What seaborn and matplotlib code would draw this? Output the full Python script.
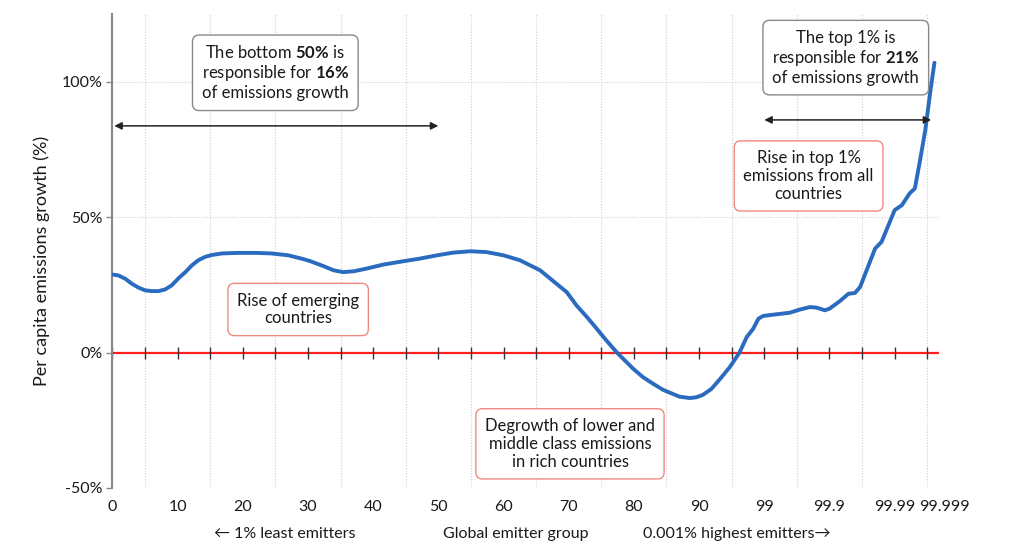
import numpy as np
import pandas as pd
import matplotlib.pyplot as plt
import matplotlib.transforms as mtransforms
import seaborn as sns

# position on the chart axis (0-90 = percentiles, 100/110/120 = 99, 99.9, 99.99)
rank_pos = [0, 0.9, 1.95, 3.0, 4.0, 5.0, 6.0, 7.1, 8.1, 9.1, 10.1, 11.2, 12.2, 13.2,
            14.2, 15.2, 16.8, 19.3, 21.9, 24.4, 27.0, 29.0, 30.3, 32.4, 33.9, 35.4,
            37.0, 39.0, 41.6, 44.6, 47.2, 49.8, 52.3, 54.9, 57.4, 60.0, 62.5, 65.6,
            69.7, 71.2, 72.8, 74.3, 75.8, 77.4, 79.9, 81.4, 83.0, 84.5, 86.0, 87.0,
            88.6, 89.6, 90.6, 91.9, 93.2, 94.7, 96.2, 97.3, 98.3, 99.1, 99.8, 101.4,
            103.9, 105.5, 107.0, 108.0, 109.3, 110.0, 111.6, 112.9, 113.9, 114.7, 115.7,
            117.0, 118.0, 120.0, 121.1, 122.3, 123.1, 123.9, 124.7, 125.5, 126.1]
growth = [28.8, 28.5, 27.3, 25.4, 24.0, 23.0, 22.7, 22.7, 23.3, 24.8, 27.3, 29.7, 32.2, 34.1,
          35.3, 36.0, 36.6, 36.8, 36.8, 36.6, 35.9, 34.7, 33.8, 31.9, 30.4, 29.7,
          30.0, 31.0, 32.5, 33.7, 34.7, 35.9, 36.9, 37.4, 37.1, 35.9, 34.1, 30.4,
          22.3, 17.4, 13.1, 8.8, 4.4, 0.0, -6.0, -9.1, -11.6, -13.8, -15.3, -16.3,
          -16.8, -16.5, -15.6, -13.4, -9.8, -5.4, 0.0, 5.7, 8.8, 12.5, 13.5, 14.0,
          14.7, 15.9, 16.8, 16.6, 15.6, 16.2, 19.0, 21.7, 22.0, 24.2, 30.4,
          38.4, 40.9, 52.6, 54.4, 58.8, 60.6, 71.1, 82.2, 97.0, 107.0]

tick_pos = [0, 10, 20, 30, 40, 50, 60, 70, 80, 90, 100, 110, 120, 126.8]
tick_labels = ['0', '10', '20', '30', '40', '50', '60', '70', '80', '90',
               '99', '99.9', '99.99', '99.999']
y_ticks = [-50, 0, 50, 100]

df = pd.DataFrame({'pos': rank_pos, 'growth': growth})

sns.set_theme(style='white')
plt.rcParams['font.family'] = ['Lato', 'DejaVu Sans']
plt.rcParams['mathtext.fontset'] = 'custom'
plt.rcParams['mathtext.rm'] = 'Lato'
plt.rcParams['mathtext.bf'] = 'Lato:bold'

fig = plt.figure(figsize=(10.24, 5.52), dpi=100)
ax = fig.add_axes([0.1097, 0.116, 0.8073, 0.8586])

text_col = '#1a1a1a'
grid_col = '#cfcfcf'

# grid
ax.set_xticks(np.arange(5, 126, 5), minor=True)
ax.grid(which='minor', axis='x', color=grid_col, ls=(0, (1, 1.5)), lw=0.8)
ax.grid(which='major', axis='y', color=grid_col, ls=(0, (1, 1.5)), lw=0.8)
ax.grid(which='major', axis='x', visible=False)

ax.axhline(0, color='#ff2020', lw=1.6, zorder=2)
marks = np.arange(0, 126, 5)
ax.plot(marks, np.zeros(len(marks)), ls='none', marker='|', ms=8, mew=1.0,
        color='#333333', zorder=2.5)

sns.lineplot(data=df, x='pos', y='growth', ax=ax, color='#2a6bbf', lw=2.8, zorder=3)

ax.set_xlim(0, 126.8)
ax.set_ylim(-50, 125)
ax.set_xticks(tick_pos)
ax.set_xticklabels(tick_labels)
ax.set_yticks(y_ticks)
ax.set_yticklabels([f'{v}%' for v in y_ticks])
ax.tick_params(axis='x', length=0, labelsize=11.5, colors=text_col, pad=9)
ax.tick_params(axis='y', length=4, width=1, color='#888888', labelsize=11.5,
               labelcolor=text_col, pad=3, left=True)
ax.tick_params(which='minor', length=0)
last = ax.get_xticklabels()[-1]
last.set_transform(last.get_transform() + mtransforms.ScaledTranslation(4 / 72, 0, fig.dpi_scale_trans))
for s in ['top', 'right', 'bottom']:
    ax.spines[s].set_visible(False)
ax.spines['left'].set_color('#888888')
ax.spines['left'].set_linewidth(1.5)
ax.set_xlabel('')
ax.set_ylabel('Per capita emissions growth (%)', fontsize=13, color=text_col)
ax.yaxis.set_label_coords(-0.075, 0.48)

gray_box = dict(boxstyle='round,pad=0.55,rounding_size=0.4', fc='white', ec='#888888', lw=1)
red_box = dict(boxstyle='round,pad=0.55,rounding_size=0.4', fc='white', ec='#f08a80', lw=1)

ax.text(25, 103.3, 'The bottom $\\mathbf{50\\%}$ is\nresponsible for $\\mathbf{16\\%}$\nof emissions growth',
        ha='center', va='center', fontsize=12, color=text_col, bbox=gray_box, linespacing=1.15)
ax.text(112.5, 108.9, 'The top 1% is\nresponsible for $\\mathbf{21\\%}$\nof emissions growth',
        ha='center', va='center', fontsize=12, color=text_col, bbox=gray_box, linespacing=1.15)
ax.text(106.8, 65.2, 'Rise in top 1%\nemissions from all\ncountries',
        ha='center', va='center', fontsize=12, color=text_col, bbox=red_box, linespacing=1.15)
ax.text(28.5, 15.9, 'Rise of emerging\ncountries',
        ha='center', va='center', fontsize=12, color=text_col, bbox=red_box, linespacing=1.15)
ax.text(70.2, -33.7, 'Degrowth of lower and\nmiddle class emissions\nin rich countries',
        ha='center', va='center', fontsize=12, color=text_col, bbox=red_box, linespacing=1.15)

arrow = dict(arrowstyle='<|-|>', color='#222222', lw=1.1, mutation_scale=11, shrinkA=0, shrinkB=0)
ax.annotate('', xy=(0.3, 83.7), xytext=(50, 83.7), arrowprops=arrow)
ax.annotate('', xy=(100, 85.9), xytext=(125.6, 85.9), arrowprops=arrow)

fig.text(285 / 1024, 0.032, '\u2190 1% least emitters', ha='center', va='center',
         fontsize=11.5, color=text_col)
fig.text(516 / 1024, 0.032, 'Global emitter group', ha='center', va='center',
         fontsize=11.5, color=text_col)
fig.text(737 / 1024, 0.032, '0.001% highest emitters\u2192', ha='center', va='center',
         fontsize=11.5, color=text_col)

fig.savefig('out.png', dpi=100)
